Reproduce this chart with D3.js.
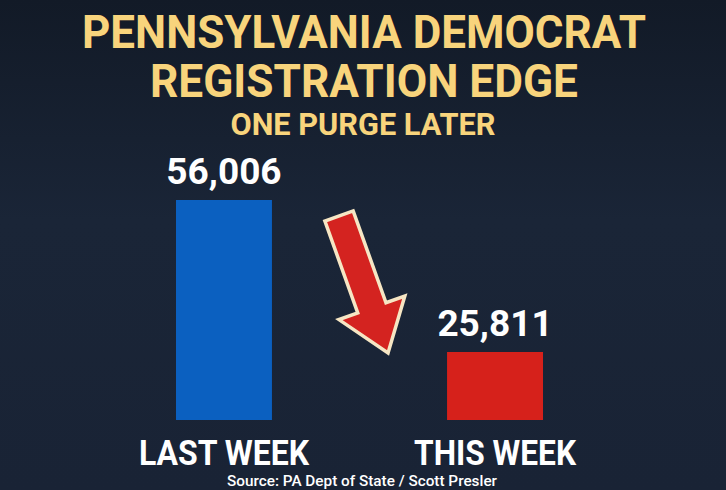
<!DOCTYPE html>
<html>
<head>
<meta charset="utf-8">
<script src="https://cdn.jsdelivr.net/npm/d3@7"></script>
<style>
  html, body { margin: 0; padding: 0; background: #182233; }
  svg { display: block; }
</style>
</head>
<body>
<div id="chart"></div>
<script>
// data
var categories = ["LAST WEEK", "THIS WEEK"];
var values = [56006, 25811];
var barColors = ["#0b60c0", "#d6211b"];
var titleLines = ["PENNSYLVANIA DEMOCRAT", "REGISTRATION EDGE"];
var subtitle = "ONE PURGE LATER";
var source = "Source: PA Dept of State / Scott Presler";

var W = 726, H = 490;

var svg = d3.select("#chart")
  .append("svg")
    .attr("width", W)
    .attr("height", H);

// background
var defs = svg.append("defs");
var bg = defs.append("linearGradient")
    .attr("id", "bg")
    .attr("x1", 0).attr("y1", 0).attr("x2", 0).attr("y2", 1);
bg.append("stop").attr("offset", "0%").attr("stop-color", "#121a27");
bg.append("stop").attr("offset", "45%").attr("stop-color", "#1a2537");
bg.append("stop").attr("offset", "100%").attr("stop-color", "#192335");

svg.append("rect")
  .attr("width", W)
  .attr("height", H)
  .attr("fill", "url(#bg)");

// titles
var gold = "#f8d47c";
svg.selectAll("text.title")
  .data(titleLines)
  .enter()
  .append("text")
    .attr("class", "title")
    .attr("x", 364)
    .attr("y", function(d, i) { return 48 + i * 49; })
    .attr("text-anchor", "middle")
    .attr("textLength", function(d, i) { return i == 0 ? 564 : 428; })
    .attr("lengthAdjust", "spacingAndGlyphs")
    .style("font-family", "Roboto, 'DejaVu Sans', sans-serif")
    .style("font-weight", "700")
    .style("font-size", "46px")
    .style("fill", gold)
    .text(function(d) { return d; });

svg.append("text")
  .attr("x", 363)
  .attr("y", 135)
  .attr("text-anchor", "middle")
  .attr("textLength", 265)
  .attr("lengthAdjust", "spacingAndGlyphs")
  .style("font-family", "Roboto, 'DejaVu Sans', sans-serif")
  .style("font-weight", "700")
  .style("font-size", "31px")
  .style("fill", gold)
  .text(subtitle);

// scales (value axis does not start at zero, as in the original graphic)
var x = d3.scaleBand()
  .domain(categories)
  .range([176, 543])
  .paddingInner(0.646)
  .paddingOuter(0);

var y = d3.scaleLinear()
  .domain([12300, 56006])
  .range([420, 200]);

// bars
svg.selectAll("rect.bar")
  .data(values)
  .enter()
  .append("rect")
    .attr("class", "bar")
    .attr("x", function(d, i) { return x(categories[i]); })
    .attr("y", function(d) { return y(d); })
    .attr("width", x.bandwidth())
    .attr("height", function(d) { return y.range()[0] - y(d); })
    .attr("fill", function(d, i) { return barColors[i]; });

// value labels
svg.selectAll("text.value")
  .data(values)
  .enter()
  .append("text")
    .attr("class", "value")
    .attr("x", function(d, i) { return x(categories[i]) + x.bandwidth() / 2; })
    .attr("y", function(d) { return y(d) - 16; })
    .attr("text-anchor", "middle")
    .style("font-family", "Roboto, 'DejaVu Sans', sans-serif")
    .style("font-weight", "700")
    .style("font-size", "37px")
    .style("fill", "#ffffff")
    .text(function(d) { return d3.format(",")(d); });

// category labels
svg.selectAll("text.cat")
  .data(categories)
  .enter()
  .append("text")
    .attr("class", "cat")
    .attr("x", function(d) { return x(d) + x.bandwidth() / 2; })
    .attr("y", 465)
    .attr("text-anchor", "middle")
    .attr("textLength", function(d, i) { return i == 0 ? 170 : 162; })
    .attr("lengthAdjust", "spacingAndGlyphs")
    .style("font-family", "Roboto, 'DejaVu Sans', sans-serif")
    .style("font-weight", "700")
    .style("font-size", "35px")
    .style("fill", "#ffffff")
    .text(function(d) { return d; });

// source
svg.append("text")
  .attr("x", 362)
  .attr("y", 486)
  .attr("text-anchor", "middle")
  .attr("textLength", 270)
  .attr("lengthAdjust", "spacingAndGlyphs")
  .style("font-family", "Roboto, 'DejaVu Sans', sans-serif")
  .style("font-weight", "500")
  .style("font-size", "14px")
  .style("fill", "#ffffff")
  .text(source);

// arrow between the bars, pointing down
var gapLeft = x(categories[0]) + x.bandwidth();
var gapRight = x(categories[1]);
var gap = gapRight - gapLeft;
var start = [gapLeft + gap * 0.383, y(values[0]) + 16];
var tip = [gapLeft + gap * 0.663, y(values[1]) + 1];

var dx = tip[0] - start[0], dy = tip[1] - start[1];
var len = Math.sqrt(dx * dx + dy * dy);
var shaftW = 30, headW = 70, headL = 48;
var ang = Math.atan2(dy, dx) * 180 / Math.PI;

// arrow drawn pointing along +x, then rotated
var arrowPts = [
  [0, -shaftW / 2],
  [len - headL, -shaftW / 2],
  [len - headL, -headW / 2],
  [len, 0],
  [len - headL, headW / 2],
  [len - headL, shaftW / 2],
  [0, shaftW / 2]
];

svg.append("path")
  .attr("d", d3.line()(arrowPts) + "Z")
  .attr("transform", "translate(" + start[0] + "," + start[1] + ")rotate(" + ang + ")")
  .attr("fill", "#d42320")
  .attr("stroke", "#f6e6c4")
  .attr("stroke-width", 3.5)
  .attr("stroke-linejoin", "miter");
</script>
</body>
</html>
